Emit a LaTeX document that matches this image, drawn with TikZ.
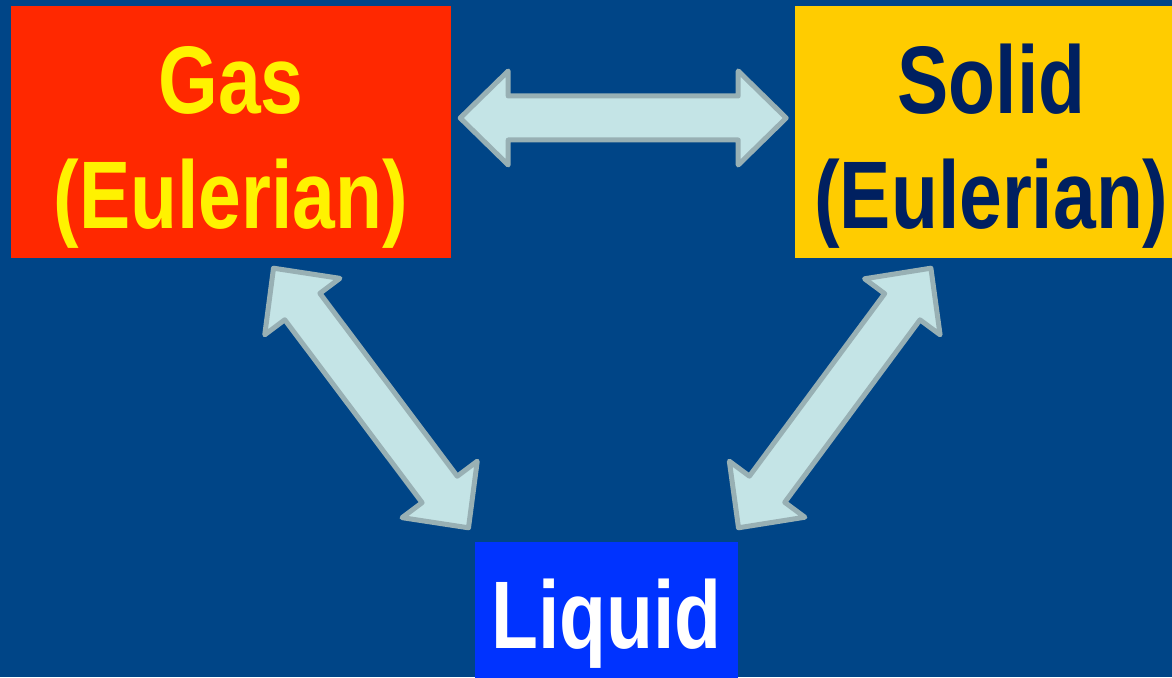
\documentclass[tikz,border=0pt]{standalone}
\usepackage{fontspec}
\setmainfont{Liberation Sans}[FakeStretch=0.8]
\usetikzlibrary{positioning, calc}

\definecolor{bgblue}{RGB}{0,69,135}
\definecolor{gasred}{RGB}{255,40,0}
\definecolor{solidgold}{RGB}{255,204,0}
\definecolor{liquidblue}{RGB}{0,51,255}
\definecolor{navytext}{RGB}{0,32,96}
\definecolor{arrowfill}{RGB}{196,228,230}
\definecolor{arrowedge}{RGB}{152,176,180}

\tikzset{
    phase/.style={rectangle, inner sep=0pt, align=center, font=\bfseries\fontsize{96}{115}\selectfont},
    blockarrow/.style={fill=arrowfill, draw=arrowedge, line width=5pt, line join=round},
}

% double block arrow between two named points
\newcommand{\dblarrow}[2]{%
    \draw[blockarrow] (#1)
        -- ($(#1)!48pt!(#2)!47pt!90:(#2)$)
        -- ($(#1)!48pt!(#2)!22pt!90:(#2)$)
        -- ($(#2)!48pt!(#1)!22pt!-90:(#1)$)
        -- ($(#2)!48pt!(#1)!47pt!-90:(#1)$)
        -- (#2)
        -- ($(#2)!48pt!(#1)!47pt!90:(#1)$)
        -- ($(#2)!48pt!(#1)!22pt!90:(#1)$)
        -- ($(#1)!48pt!(#2)!22pt!-90:(#2)$)
        -- ($(#1)!48pt!(#2)!47pt!-90:(#2)$)
        -- cycle;%
}

\begin{document}
\begin{tikzpicture}[x=1pt, y=1pt]
    \clip (0,0) rectangle (1172,677);
    \fill[bgblue] (0,0) rectangle (1172,677);

    \node (gas) [phase, fill=gasred, text=yellow, text height=212pt, minimum width=440pt, minimum height=252pt] at (231, 545) {Gas\\(Eulerian)};
    \node (solid) [phase, fill=solidgold, text=navytext, text height=212pt, minimum width=392pt, minimum height=252pt, right=344pt of gas] {Solid\\(Eulerian)};
    \node (liquid) [phase, fill=liquidblue, text=white, text height=96pt, minimum width=263pt, minimum height=136pt] at (606.5, 67) {Liquid};

    \coordinate (gasR) at ([shift={(9,14)}]gas.east);
    \coordinate (solidL) at ([shift={(-9,14)}]solid.west);
    \coordinate (gasB) at ([shift={(42.5,-10)}]gas.south);
    \coordinate (liqL) at ([shift={(-138,14)}]liquid.north);
    \coordinate (solidB) at ([shift={(-60.5,-10)}]solid.south);
    \coordinate (liqR) at ([shift={(132,14)}]liquid.north);

    \dblarrow{gasR}{solidL}
    \dblarrow{gasB}{liqL}
    \dblarrow{solidB}{liqR}
\end{tikzpicture}
\end{document}
